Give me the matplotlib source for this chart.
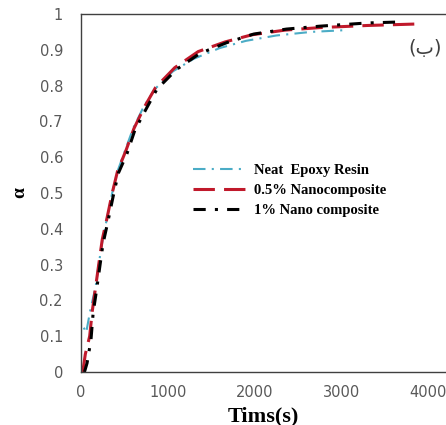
import matplotlib.pyplot as plt

# tempo (s) e grau de cura (alpha)
t_neat = [0, 0, 60, 105, 170, 210, 250, 300, 360, 420, 510, 600, 720, 850, 1060, 1300, 1600, 1900, 2250, 2650, 3050]
a_neat = [0.03, 0.14, 0.11, 0.17, 0.24, 0.31, 0.37, 0.43, 0.50, 0.56, 0.62, 0.68, 0.74, 0.79, 0.84, 0.875, 0.905, 0.925, 0.94, 0.95, 0.955]

t_05 = [20, 50, 100, 130, 170, 210, 245, 300, 360, 420, 520, 610, 730, 860, 1080, 1350, 1660, 1970, 2350, 2750, 3300, 3850]
a_05 = [0.0, 0.05, 0.10, 0.17, 0.24, 0.31, 0.37, 0.43, 0.50, 0.56, 0.62, 0.68, 0.74, 0.795, 0.85, 0.895, 0.922, 0.942, 0.955, 0.962, 0.968, 0.972]

t_1 = [40, 70, 115, 140, 180, 220, 255, 310, 370, 430, 530, 620, 740, 875, 1100, 1370, 1680, 1990, 2370, 2750, 3300, 3700]
a_1 = [0.0, 0.025, 0.09, 0.165, 0.23, 0.30, 0.36, 0.42, 0.49, 0.555, 0.61, 0.675, 0.73, 0.79, 0.845, 0.89, 0.92, 0.944, 0.958, 0.966, 0.975, 0.978]

x_ticks = [0, 1000, 2000, 3000, 4000]
y_ticks = [0, 0.1, 0.2, 0.3, 0.4, 0.5, 0.6, 0.7, 0.8, 0.9, 1]
y_labels = ['0', '0.1', '0.2', '0.3', '0.4', '0.5', '0.6', '0.7', '0.8', '0.9', '1']

fig = plt.figure(figsize=(4.46, 4.25), dpi=100)
ax = fig.add_axes([0.1816, 0.1247, 0.8184, 0.8423])

ax.plot(t_neat, a_neat, color='#4bacc6', lw=1.5, ls=(0, (6, 3, 1, 3)), label='Neat  Epoxy Resin')
ax.plot(t_05, a_05, color='#c0192b', lw=2.2, ls=(0, (7, 3)), label='0.5% Nanocomposite')
ax.plot(t_1, a_1, color='black', lw=2.2, ls=(0, (4, 3, 1, 3)), label='1% Nano composite')

ax.set_xlim(0, 4207)
ax.set_ylim(0, 1)
ax.set_xticks(x_ticks)
ax.set_yticks(y_ticks)
ax.set_yticklabels(y_labels)
ax.tick_params(length=0, labelsize=10.5, labelcolor='#595959')
ax.tick_params(axis='x', pad=9)
ax.tick_params(axis='y', pad=13)

ax.spines['right'].set_visible(False)
for s in ['left', 'bottom', 'top']:
    ax.spines[s].set_color('#404040')
    ax.spines[s].set_linewidth(1.0)

ax.set_xlabel('Tims(s)', fontfamily='Liberation Serif', fontweight='bold', fontsize=16, labelpad=5)
ax.set_ylabel('α', fontfamily='Liberation Serif', fontweight='bold', fontsize=14, labelpad=8)

ax.text(0.99, 0.905, '(ب)', transform=ax.transAxes,
        ha='right', va='center', fontsize=14, color='#404040')

leg = ax.legend(loc='upper left', bbox_to_anchor=(0.27, 0.617), frameon=False,
                prop={'family': 'Liberation Serif', 'weight': 'bold', 'size': 10.5},
                handlelength=3.6, handletextpad=0.6, labelspacing=0.45)

fig.savefig('out.png', dpi=100)
